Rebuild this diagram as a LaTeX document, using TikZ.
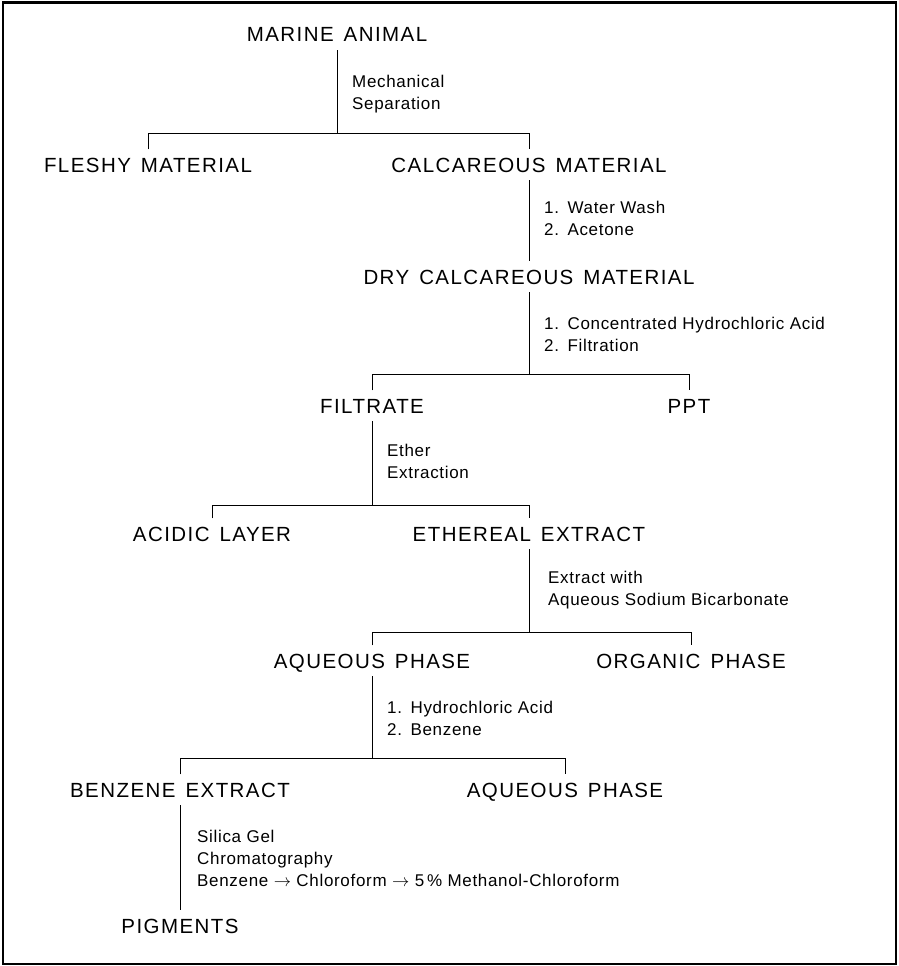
\documentclass[tikz,border=0pt]{standalone}
\usepackage{fontspec}
\setmainfont{Liberation Sans}
\newfontfamily\stagefont{Liberation Sans}[LetterSpace=7,WordSpace=1.4]
\newfontfamily\stepfont{Liberation Sans}[LetterSpace=4]
\usetikzlibrary{calc}

\tikzset{
  stage/.style={anchor=base,inner xsep=0pt,inner ysep=8pt,text height=14.5pt,text depth=0pt,
    font=\stagefont\fontsize{20.5}{24}\selectfont},
  steplabel/.style={anchor=base west,inner sep=0pt,align=left,
    font=\stepfont\fontsize{17}{22}\selectfont},
  link/.style={line width=1pt}
}

\begin{document}
\begin{tikzpicture}[x=1pt,y=-1pt]
\useasboundingbox (0,0) rectangle (898,966);
\draw[line width=2.5pt] (3,2.5) rectangle (896,964);

\node[stage] (marine)   at (337,42)  {MARINE ANIMAL};
\node[stage] (fleshy)   at (148,172) {FLESHY MATERIAL};
\node[stage] (calc)     at (529,172) {CALCAREOUS MATERIAL};
\node[stage] (drycalc)  at (529,284) {DRY CALCAREOUS MATERIAL};
\node[stage] (filtrate) at (372,413) {FILTRATE};
\node[stage] (ppt)      at (689,413) {PPT};
\node[stage] (acidic)   at (212,541) {ACIDIC LAYER};
\node[stage] (ethereal) at (529,541) {ETHEREAL EXTRACT};
\node[stage] (aqphase)  at (372,668) {AQUEOUS PHASE};
\node[stage] (organic)  at (691,668) {ORGANIC PHASE};
\node[stage] (benzext)  at (180,797) {BENZENE EXTRACT};
\node[stage] (aqphase2) at (565,797) {AQUEOUS PHASE};
\node[stage] (pigments) at (180,933) {PIGMENTS};

% base of a multi-line label sits on its last line
\node[steplabel] (mech)  at (352,109) {Mechanical\\Separation};
\node[steplabel] (wash)  at (544,235) {1.\enspace Water Wash\\2.\enspace Acetone};
\node[steplabel] (acid)  at (544,351) {1.\enspace Concentrated Hydrochloric Acid\\2.\enspace Filtration};
\node[steplabel] (ether) at (387,478) {Ether\\Extraction};
\node[steplabel] (bicarb) at (548,605) {Extract with\\Aqueous Sodium Bicarbonate};
\node[steplabel] (hcl)   at (387,735) {1.\enspace Hydrochloric Acid\\2.\enspace Benzene};
\node[steplabel] (silica) at (197,886) {Silica Gel\\Chromatography\\Benzene $\rightarrow$ Chloroform $\rightarrow$ 5\,\% Methanol-Chloroform};

\foreach \p/\l/\r/\y in {marine/fleshy/calc/133, drycalc/filtrate/ppt/374,
    filtrate/acidic/ethereal/505, ethereal/aqphase/organic/632, aqphase/benzext/aqphase2/758} {
  \draw[link] (\p.south) -- (\p.south |- 0,\y);
  \draw[link] (\l.north) |- (\r.north |- 0,\y) -- (\r.north);
}
\draw[link] (calc.south) -- (drycalc.north);
\draw[link] (benzext.south) -- (pigments.north);
\end{tikzpicture}
\end{document}
